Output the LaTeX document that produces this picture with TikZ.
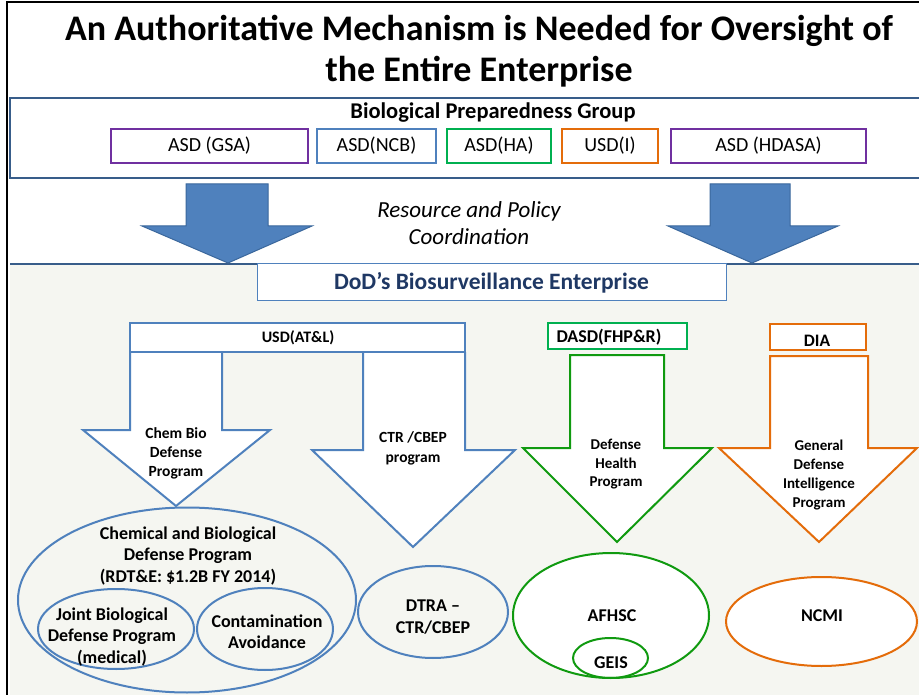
\documentclass[tikz,border=0pt]{standalone}
\usepackage{fontspec}
\setmainfont{Carlito}
\usetikzlibrary{shapes.geometric}
\definecolor{offblue}{HTML}{4F81BD}
\definecolor{frameblue}{HTML}{385D8A}
\definecolor{arrowedge}{HTML}{3A679C}
\definecolor{navy}{HTML}{1F3864}
\definecolor{purp}{HTML}{7030A0}
\definecolor{gbox}{HTML}{00B050}
\definecolor{gdark}{HTML}{109A10}
\definecolor{orng}{HTML}{E46C0A}
\definecolor{panel}{HTML}{F5F6F1}
\begin{document}
\begin{tikzpicture}[x=1pt,y=-1pt,
  txt/.style={inner sep=0pt,align=center,text=black},
  subbox/.style={draw,line width=1.8pt,fill=white,inner sep=0pt},
  blockarrow/.style={fill=white,line width=2pt,line join=miter},
  oval/.style={ellipse,draw,line width=2pt,inner sep=0pt},
  bigarrow/.style={fill=offblue,draw=arrowedge,line width=1pt}
]
\useasboundingbox (0,0) rectangle (919,695);
\fill[white] (0,0) rectangle (919,695);
% lower panel
\fill[panel] (10,264) rectangle (919,695);
\draw[frameblue,line width=2.5pt] (10,264) -- (919,264);
% outer frame
\draw[black,line width=2pt] (7,695) -- (7,2) -- (919,2);
% title
\node[txt,font=\bfseries\fontsize{36}{41}\selectfont] (title) at (479,51)
  {An Authoritative Mechanism is Needed for Oversight of\\the Entire Enterprise};
% bio preparedness group
\draw[frameblue,line width=2.5pt] (919,98) -- (10,98) -- (10,178) -- (919,178);
\node[txt,font=\bfseries\fontsize{22.5}{26}\selectfont] (bpg) at (493,113) {Biological Preparedness Group};
\node[subbox,draw=purp,minimum width=197pt,minimum height=34pt,font=\fontsize{20}{24}\selectfont] (gsa) at (209.5,146) {ASD (GSA)};
\node[subbox,draw=offblue,minimum width=119pt,minimum height=34pt,font=\fontsize{20}{24}\selectfont] (ncb) at (376.5,146) {ASD(NCB)};
\node[subbox,draw=gbox,minimum width=104pt,minimum height=34pt,font=\fontsize{20}{24}\selectfont] (ha) at (499,146) {ASD(HA)};
\node[subbox,draw=orng,minimum width=96pt,minimum height=34pt,font=\fontsize{20}{24}\selectfont] (usdi) at (610,146) {USD(I)};
\node[subbox,draw=purp,minimum width=195pt,minimum height=34pt,font=\fontsize{20}{24}\selectfont] (hdasa) at (768.5,146) {ASD (HDASA)};
% big blue arrows
\draw[bigarrow] (186,184) -- (268,184) -- (268,226) -- (312,226) -- (228,263) -- (142,226) -- (186,226) -- cycle;
\draw[bigarrow] (710,184) -- (790,184) -- (790,226) -- (838,226) -- (752,263) -- (668,226) -- (710,226) -- cycle;
\node[txt,font=\itshape\fontsize{23}{27.5}\selectfont] (rpc) at (469,223) {Resource and Policy\\Coordination};
% DoD box
\node[draw=offblue,line width=1pt,fill=white,minimum width=469pt,minimum height=37pt,inner sep=0pt,
  text=navy,font=\bfseries\fontsize{23.5}{27}\selectfont] (dod) at (491.5,282.5) {DoD’s Biosurveillance Enterprise};
% USD(AT&L) group
\draw[offblue,fill=white,line width=2pt] (130,323) rectangle (465,352);
\node[txt,font=\bfseries\fontsize{16}{20}\selectfont] (usdatl) at (298,338) {USD(AT\&L)};
\draw[blockarrow,draw=offblue] (130,352) -- (130,430) -- (83,430) -- (176,506) -- (270,430) -- (222,430) -- (222,352);
\draw[blockarrow,draw=offblue] (363,352) -- (363,450) -- (312,450) -- (413,547) -- (515,450) -- (465,450) -- (465,352);
\draw[offblue,line width=2pt] (130,352) -- (465,352);
\node[txt,font=\bfseries\fontsize{15.5}{19}\selectfont] (cbd) at (176,453) {Chem Bio\\Defense\\Program};
\node[txt,font=\bfseries\fontsize{15.5}{20}\selectfont] (ctr) at (413,448) {CTR /CBEP\\program};
% DASD group
\node[subbox,draw=gbox,line width=1.5pt,minimum width=139pt,minimum height=26pt] (dasdbox) at (617.5,336) {};
\node[txt,font=\bfseries\fontsize{18}{22}\selectfont] (dasd) at (609,337) {DASD(FHP\&R)};
\draw[blockarrow,draw=gdark] (570,355) -- (570,448) -- (523,448) -- (617,542) -- (712,448) -- (664,448) -- (664,355) -- cycle;
\node[txt,font=\bfseries\fontsize{15}{18.5}\selectfont] (dhp) at (616,464.5) {Defense\\Health\\Program};
% DIA group
\node[subbox,draw=orng,line width=1.8pt,minimum width=96pt,minimum height=26pt] (diabox) at (818,337) {};
\node[txt,font=\bfseries\fontsize{17.5}{21}\selectfont] (dia) at (817,341) {DIA};
\draw[blockarrow,draw=orng] (770,356) -- (770,448) -- (719,448) -- (819,542) -- (917,448) -- (868,448) -- (868,356) -- cycle;
\node[txt,font=\bfseries\fontsize{15}{18.7}\selectfont] (gdip) at (819,475) {General\\Defense\\Intelligence\\Program};
% ellipses
\node[oval,draw=offblue,minimum width=338pt,minimum height=185pt] (cbdpov) at (187,600) {};
\node[txt,font=\bfseries\fontsize{18}{21.5}\selectfont] (cbdp) at (188,556) {Chemical and Biological\\Defense Program\\(RDT\&E: \$1.2B FY 2014)};
\node[oval,draw=offblue,minimum width=156pt,minimum height=80pt] (jbdpov) at (116,629) {};
\node[txt,font=\bfseries\fontsize{18}{21.5}\selectfont] (jbdp) at (112,637) {Joint Biological\\Defense Program\\(medical)};
\node[oval,draw=offblue,minimum width=136pt,minimum height=82pt] (caov) at (265,629) {};
\node[txt,font=\bfseries\fontsize{18}{21.5}\selectfont] (ca) at (267,631.5) {Contamination\\Avoidance};
\node[oval,draw=offblue,minimum width=150pt,minimum height=92pt] (dtraov) at (433,612) {};
\node[txt,font=\bfseries\fontsize{18}{22}\selectfont] (dtra) at (433,617) {DTRA –\\CTR/CBEP};
\node[oval,draw=gdark,fill=white,minimum width=196pt,minimum height=125pt] (afhscov) at (611,615.5) {};
\node[txt,font=\bfseries\fontsize{18}{22}\selectfont] (afhsc) at (612,616) {AFHSC};
\node[oval,draw=gdark,minimum width=75pt,minimum height=40pt] (geisov) at (610.5,658) {};
\node[txt,font=\bfseries\fontsize{18}{22}\selectfont] (geis) at (611,663) {GEIS};
\node[oval,draw=orng,fill=white,minimum width=191pt,minimum height=89pt] (ncmiov) at (821.5,621.5) {};
\node[txt,font=\bfseries\fontsize{18}{22}\selectfont] (ncmi) at (822,616) {NCMI};
\end{tikzpicture}
\end{document}
